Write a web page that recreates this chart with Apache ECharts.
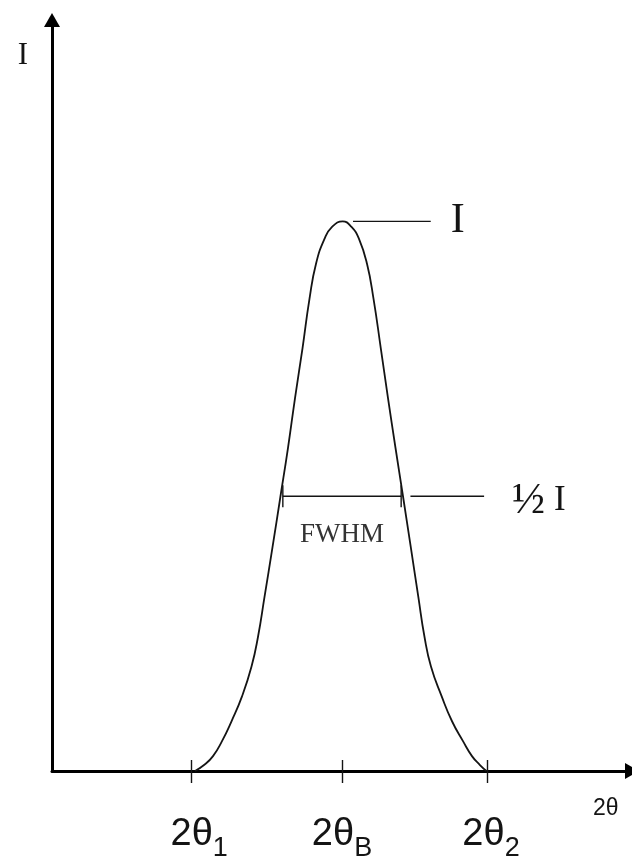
<!DOCTYPE html>
<html>
<head>
<meta charset="utf-8">
<script src="https://cdn.jsdelivr.net/npm/echarts@6/dist/echarts.min.js"></script>
<style>
  html, body { margin: 0; padding: 0; background: #fff; }
  #chart { width: 632px; height: 862px; }
</style>
</head>
<body>
<div id="chart"></div>
<script>
// Diffraction peak profile: intensity against 2θ (arbitrary units)
const profileAngle = [
  24.66, 26.21, 27.76, 29.31, 30.95, 32.76, 34.40, 35.52, 36.64, 38.02, 39.36, 40.69, 41.90, 43.19, 44.40, 45.52, 46.98, 48.28,
  50.12,
  51.64, 52.93, 54.31, 55.43, 56.69, 57.93, 59.22, 60.55, 61.86, 63.16, 64.22, 65.34, 67.19, 68.97, 70.86, 72.41, 73.79, 74.91
];
const profileIntensity = [
  0, 1.09, 2.71, 5.43, 9.05, 13.57, 19.00, 24.43, 31.67, 40.72, 49.76, 58.81, 67.86, 76.91, 85.96, 92.29, 96.81, 98.98,
  100,
  98.98, 96.81, 92.29, 85.96, 76.91, 67.86, 58.81, 49.76, 40.72, 31.67, 24.43, 19.00, 13.57, 9.05, 5.43, 2.71, 1.09, 0
];

// Marked angles on the 2θ axis and their subscripts
const tickAngles = [24, 50, 75];
const tickSubscripts = ['1', 'B', '2'];

// Peak height, half height and the full width at half maximum
const peakIntensity = 100;
const halfIntensity = 50;
const fwhmBounds = [39.8, 60.2];
const peakLeaderSpan = [51.9, 65.3];
const halfLeaderSpan = [61.8, 74.5];

const axisRange = { xMin: 0, xMax: 100, yMin: 0, yMax: 137 };

const chart = echarts.init(document.getElementById('chart'), null, { renderer: 'canvas' });

const serif = 'Liberation Serif, Times New Roman, serif';
const sans = 'Liberation Sans, Arial, sans-serif';
const ink = '#141414';

const profileData = profileAngle.map((a, i) => [a, profileIntensity[i]]);

function segment(x0, y0, x1, y1) {
  return [[x0, y0], [x1, y1]];
}

const thinLine = { color: ink, width: 1.4 };

// left padding per tick label (hand-set typography of the angle labels)
const labelLead = [16, 0, 8];

const baseX = {
  type: 'value',
  min: axisRange.xMin,
  max: axisRange.xMax,
  splitLine: { show: false },
  axisLine: { show: false },
  axisLabel: { show: false },
  axisTick: { show: false }
};

const richLabel = {};
labelLead.forEach(function (pad, i) {
  richLabel['m' + i] = { fontFamily: sans, fontSize: 38, color: ink, padding: [0, 0, 0, pad] };
});
richLabel.s = { fontFamily: sans, fontSize: 27, color: ink, padding: [27, 0, 0, 0] };

const option = {
  animation: false,
  backgroundColor: '#ffffff',
  grid: { left: 52, right: 0, top: 18, bottom: 87, containLabel: false },
  xAxis: [
    Object.assign({}, baseX, {
      name: '2θ',
      nameLocation: 'end',
      nameGap: -39,
      nameTextStyle: { fontFamily: sans, fontSize: 23, color: ink, align: 'left', verticalAlign: 'top', padding: [26, 0, 0, 0] },
      axisLine: {
        show: true,
        onZero: false,
        symbol: ['none', 'triangle'],
        symbolSize: [16, 14],
        symbolOffset: [0, 0],
        lineStyle: { color: '#000', width: 3 }
      },
      axisTick: {
        show: true,
        inside: true,
        length: 11,
        customValues: tickAngles,
        lineStyle: { color: ink, width: 1.4 }
      },
      axisLabel: {
        show: true,
        customValues: tickAngles,
        margin: 37,
        formatter: function (v) {
          const i = tickAngles.indexOf(v);
          return '{m' + i + '|2θ}{s|' + tickSubscripts[i] + '}';
        },
        rich: richLabel
      }
    }),
    Object.assign({}, baseX, {
      position: 'bottom',
      axisTick: {
        show: true,
        inside: false,
        length: 12,
        customValues: tickAngles,
        lineStyle: { color: ink, width: 1.4 }
      }
    })
  ],
  yAxis: {
    type: 'value',
    min: axisRange.yMin,
    max: axisRange.yMax,
    name: 'I',
    nameLocation: 'end',
    nameGap: -22,
    nameTextStyle: { fontFamily: serif, fontSize: 31, color: ink, align: 'right', verticalAlign: 'top', padding: [0, 24, 0, 0] },
    splitLine: { show: false },
    axisTick: { show: false },
    axisLabel: { show: false },
    axisLine: {
      show: true,
      onZero: false,
      symbol: ['none', 'triangle'],
      symbolSize: [16, 14],
      symbolOffset: [0, -2],
      lineStyle: { color: '#000', width: 3 }
    }
  },
  series: [
    {
      name: 'profile',
      type: 'line',
      data: profileData,
      smooth: 0.5,
      showSymbol: false,
      lineStyle: { color: ink, width: 1.8 },
      z: 3
    },
    {
      name: 'peak leader',
      type: 'line',
      data: segment(peakLeaderSpan[0], peakIntensity, peakLeaderSpan[1], peakIntensity),
      showSymbol: false,
      lineStyle: thinLine,
      endLabel: {
        show: true,
        formatter: 'I',
        distance: 20,
        fontFamily: serif,
        fontSize: 42,
        color: ink
      }
    },
    {
      name: 'half leader',
      type: 'line',
      data: segment(halfLeaderSpan[0], halfIntensity, halfLeaderSpan[1], halfIntensity),
      showSymbol: false,
      lineStyle: thinLine,
      endLabel: {
        show: true,
        formatter: '{h|½}{i|I}',
        distance: 28,
        offset: [0, 5],
        rich: {
          h: { fontFamily: serif, fontSize: 44, color: ink },
          i: { fontFamily: serif, fontSize: 35, color: ink, padding: [0, 0, 0, 9] }
        }
      }
    },
    {
      name: 'fwhm',
      type: 'line',
      data: segment(fwhmBounds[0], halfIntensity, fwhmBounds[1], halfIntensity),
      showSymbol: false,
      lineStyle: thinLine
    },
    {
      name: 'fwhm left end',
      type: 'line',
      data: segment(fwhmBounds[0], halfIntensity + 2, fwhmBounds[0], halfIntensity - 2),
      showSymbol: false,
      lineStyle: thinLine
    },
    {
      name: 'fwhm right end',
      type: 'line',
      data: segment(fwhmBounds[1], halfIntensity + 2, fwhmBounds[1], halfIntensity - 2),
      showSymbol: false,
      lineStyle: thinLine
    },
    {
      name: 'fwhm caption',
      type: 'scatter',
      symbolSize: 0,
      data: [[(fwhmBounds[0] + fwhmBounds[1]) / 2, halfIntensity - 7]],
      label: {
        show: true,
        position: 'inside',
        formatter: 'FWHM',
        fontFamily: serif,
        fontSize: 27,
        color: '#000'
      }
    }
  ]
};

chart.setOption(option);
</script>
</body>
</html>
